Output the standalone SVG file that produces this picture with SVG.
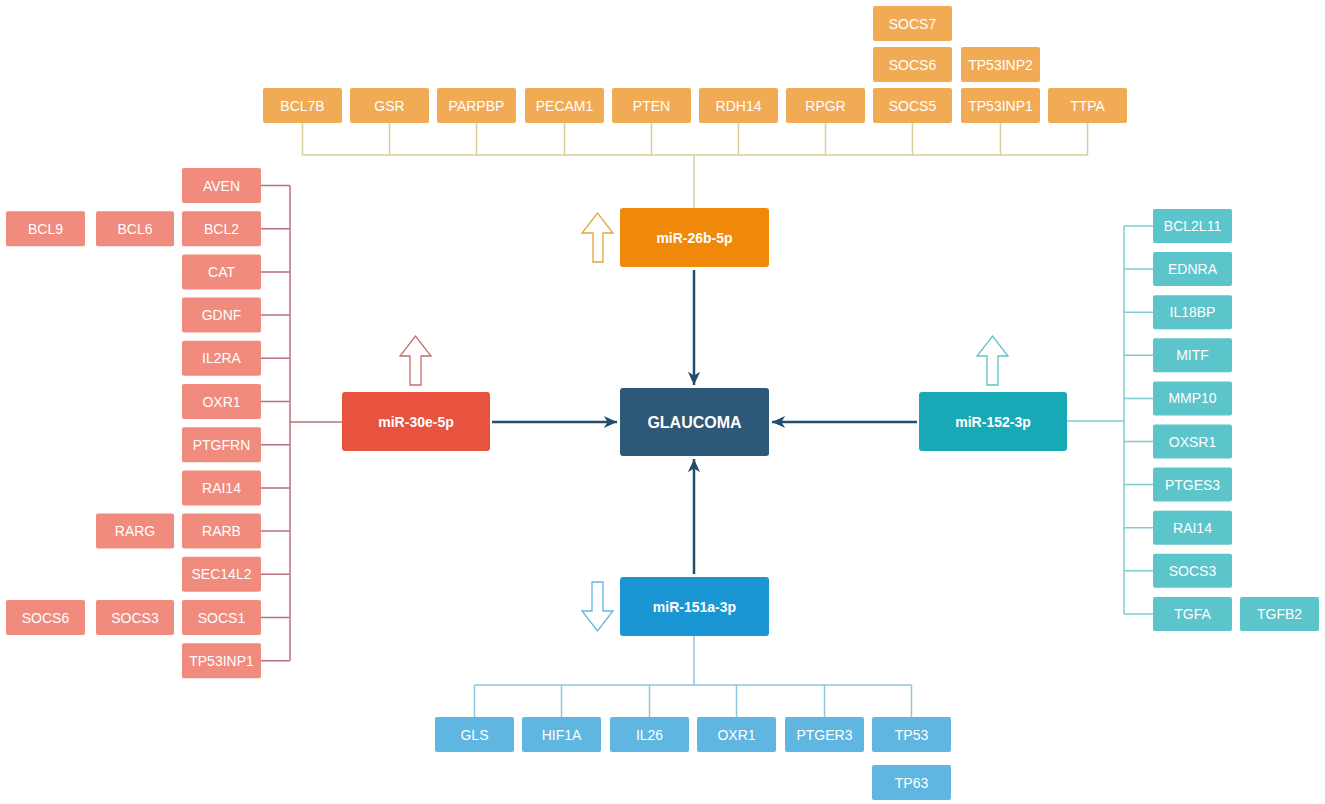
<svg xmlns="http://www.w3.org/2000/svg" width="1325" height="804" viewBox="0 0 1325 804">
<style>
text{font-family:"Liberation Sans",Arial,sans-serif;fill:#fff;text-anchor:middle;dominant-baseline:central}
.g{font-size:14px}
.m{font-size:14px;font-weight:bold}
.big{font-size:16px;font-weight:bold}
.or rect{fill:#f2ab55}
.sa rect{fill:#f08b7d}
.te rect{fill:#5cc4cb}
.bl rect{fill:#5fb6e0}
.ct{stroke:#d8cf98;stroke-width:1.5;fill:none}
.cl{stroke:#b8727a;stroke-width:1.5;fill:none}
.cr{stroke:#7fcdd3;stroke-width:1.5;fill:none}
.cb{stroke:#8fc7e0;stroke-width:1.5;fill:none}
.main{stroke:#214d6e;stroke-width:2.5;fill:none;marker-end:url(#ah)}
</style>
<defs>
<marker id="ah" markerUnits="userSpaceOnUse" markerWidth="16" markerHeight="16" viewBox="-1 -8 17 16" refX="14" refY="0" orient="auto">
<path d="M0,-6.5 L14,0 L0,6.5 L4,0 z" fill="#214d6e"/>
</marker>
</defs>
<rect width="1325" height="804" fill="#fff"/>

<g id="connectors">
<path class="ct" d="M302.5,123V155M389.5,123V155M476.5,123V155M564.5,123V155M651.5,123V155M738.5,123V155M825.5,123V155M912.5,123V155M1000.5,123V155M1087.5,123V155M302.5,155H1087.5M694,155V208"/>
<path class="cl" d="M342,422H290M290,185.5V660.5M261,185.5H290M261,228.7H290M261,271.9H290M261,315.1H290M261,358.3H290M261,401.5H290M261,444.7H290M261,487.9H290M261,531.1H290M261,574.3H290M261,617.5H290M261,660.7H290"/>
<path class="cr" d="M1067,421H1124M1124,226V614M1124,226H1153M1124,269.1H1153M1124,312.2H1153M1124,355.3H1153M1124,398.4H1153M1124,441.5H1153M1124,484.6H1153M1124,527.7H1153M1124,570.8H1153M1124,613.9H1153"/>
<path class="cb" d="M694,636V685M474.5,685H911.5M474.5,685V717M561.5,685V717M649.5,685V717M736.5,685V717M824.5,685V717M911.5,685V717"/>
<path class="main" d="M694,270V385"/>
<path class="main" d="M492,422H617"/>
<path class="main" d="M917,422H772"/>
<path class="main" d="M694,574V459"/>
<polygon points="593,262 603,262 603,233 613,233 597.5,213 582,233 593,233" fill="#fff" stroke="#e8a33b" stroke-width="1.3"/>
<polygon points="410,385 421,385 421,356 431,356 415.5,336 400,356 410,356" fill="#fff" stroke="#c0706a" stroke-width="1.3"/>
<polygon points="987,385 998,385 998,356 1008,356 992.5,336 977,356 987,356" fill="#fff" stroke="#5cc4cb" stroke-width="1.3"/>
<polygon points="592,582 603,582 603,611 613,611 597.5,631 582,611 592,611" fill="#fff" stroke="#5fb6e0" stroke-width="1.3"/>
</g>

<g id="glaucoma"><rect x="620" y="388" width="149" height="68" rx="3" fill="#2e5878"/><text class="big" x="694.5" y="422">GLAUCOMA</text></g>
<g id="mir26b"><rect x="620" y="208" width="149" height="59" rx="3" fill="#f0890a"/><text class="m" x="694.5" y="237.5">miR-26b-5p</text></g>
<g id="mir30e"><rect x="342" y="392" width="148" height="59" rx="3" fill="#e8533f"/><text class="m" x="416" y="421.5">miR-30e-5p</text></g>
<g id="mir152"><rect x="919" y="392" width="148" height="59" rx="3" fill="#17a9b5"/><text class="m" x="993" y="421.5">miR-152-3p</text></g>
<g id="mir151a"><rect x="620" y="577" width="149" height="59" rx="3" fill="#1a96d4"/><text class="m" x="694.5" y="606.5">miR-151a-3p</text></g>

<g class="or">
<g id="t-bcl7b"><rect x="263" y="88" width="79" height="35" rx="2"/><text class="g" x="302.5" y="105.5">BCL7B</text></g>
<g id="t-gsr"><rect x="350" y="88" width="79" height="35" rx="2"/><text class="g" x="389.5" y="105.5">GSR</text></g>
<g id="t-parpbp"><rect x="437" y="88" width="79" height="35" rx="2"/><text class="g" x="476.5" y="105.5">PARPBP</text></g>
<g id="t-pecam1"><rect x="525" y="88" width="79" height="35" rx="2"/><text class="g" x="564.5" y="105.5">PECAM1</text></g>
<g id="t-pten"><rect x="612" y="88" width="79" height="35" rx="2"/><text class="g" x="651.5" y="105.5">PTEN</text></g>
<g id="t-rdh14"><rect x="699" y="88" width="79" height="35" rx="2"/><text class="g" x="738.5" y="105.5">RDH14</text></g>
<g id="t-rpgr"><rect x="786" y="88" width="79" height="35" rx="2"/><text class="g" x="825.5" y="105.5">RPGR</text></g>
<g id="t-socs5"><rect x="873" y="88" width="79" height="35" rx="2"/><text class="g" x="912.5" y="105.5">SOCS5</text></g>
<g id="t-socs6"><rect x="873" y="47" width="79" height="35" rx="2"/><text class="g" x="912.5" y="64.5">SOCS6</text></g>
<g id="t-socs7"><rect x="873" y="6" width="79" height="35" rx="2"/><text class="g" x="912.5" y="23.5">SOCS7</text></g>
<g id="t-tp53inp1"><rect x="961" y="88" width="79" height="35" rx="2"/><text class="g" x="1000.5" y="105.5">TP53INP1</text></g>
<g id="t-tp53inp2"><rect x="961" y="47" width="79" height="35" rx="2"/><text class="g" x="1000.5" y="64.5">TP53INP2</text></g>
<g id="t-ttpa"><rect x="1048" y="88" width="79" height="35" rx="2"/><text class="g" x="1087.5" y="105.5">TTPA</text></g>
</g>

<g class="sa">
<g id="l-aven"><rect x="182" y="168" width="79" height="35" rx="2"/><text class="g" x="221.5" y="185.5">AVEN</text></g>
<g id="l-bcl2"><rect x="182" y="211.2" width="79" height="35" rx="2"/><text class="g" x="221.5" y="228.7">BCL2</text></g>
<g id="l-bcl6"><rect x="96" y="211.2" width="78" height="35" rx="2"/><text class="g" x="135" y="228.7">BCL6</text></g>
<g id="l-bcl9"><rect x="6" y="211.2" width="79" height="35" rx="2"/><text class="g" x="45.5" y="228.7">BCL9</text></g>
<g id="l-cat"><rect x="182" y="254.4" width="79" height="35" rx="2"/><text class="g" x="221.5" y="271.9">CAT</text></g>
<g id="l-gdnf"><rect x="182" y="297.6" width="79" height="35" rx="2"/><text class="g" x="221.5" y="315.1">GDNF</text></g>
<g id="l-il2ra"><rect x="182" y="340.8" width="79" height="35" rx="2"/><text class="g" x="221.5" y="358.3">IL2RA</text></g>
<g id="l-oxr1"><rect x="182" y="384" width="79" height="35" rx="2"/><text class="g" x="221.5" y="401.5">OXR1</text></g>
<g id="l-ptgfrn"><rect x="182" y="427.2" width="79" height="35" rx="2"/><text class="g" x="221.5" y="444.7">PTGFRN</text></g>
<g id="l-rai14"><rect x="182" y="470.4" width="79" height="35" rx="2"/><text class="g" x="221.5" y="487.9">RAI14</text></g>
<g id="l-rarb"><rect x="182" y="513.6" width="79" height="35" rx="2"/><text class="g" x="221.5" y="531.1">RARB</text></g>
<g id="l-rarg"><rect x="96" y="513.6" width="78" height="35" rx="2"/><text class="g" x="135" y="531.1">RARG</text></g>
<g id="l-sec14l2"><rect x="182" y="556.8" width="79" height="35" rx="2"/><text class="g" x="221.5" y="574.3">SEC14L2</text></g>
<g id="l-socs1"><rect x="182" y="600" width="79" height="35" rx="2"/><text class="g" x="221.5" y="617.5">SOCS1</text></g>
<g id="l-socs3"><rect x="96" y="600" width="78" height="35" rx="2"/><text class="g" x="135" y="617.5">SOCS3</text></g>
<g id="l-socs6"><rect x="6" y="600" width="79" height="35" rx="2"/><text class="g" x="45.5" y="617.5">SOCS6</text></g>
<g id="l-tp53inp1"><rect x="182" y="643.2" width="79" height="35" rx="2"/><text class="g" x="221.5" y="660.7">TP53INP1</text></g>
</g>

<g class="te">
<g id="r-bcl2l11"><rect x="1153" y="209" width="79" height="34" rx="2"/><text class="g" x="1192.5" y="226">BCL2L11</text></g>
<g id="r-ednra"><rect x="1153" y="252.1" width="79" height="34" rx="2"/><text class="g" x="1192.5" y="269.1">EDNRA</text></g>
<g id="r-il18bp"><rect x="1153" y="295.2" width="79" height="34" rx="2"/><text class="g" x="1192.5" y="312.2">IL18BP</text></g>
<g id="r-mitf"><rect x="1153" y="338.3" width="79" height="34" rx="2"/><text class="g" x="1192.5" y="355.3">MITF</text></g>
<g id="r-mmp10"><rect x="1153" y="381.4" width="79" height="34" rx="2"/><text class="g" x="1192.5" y="398.4">MMP10</text></g>
<g id="r-oxsr1"><rect x="1153" y="424.5" width="79" height="34" rx="2"/><text class="g" x="1192.5" y="441.5">OXSR1</text></g>
<g id="r-ptges3"><rect x="1153" y="467.6" width="79" height="34" rx="2"/><text class="g" x="1192.5" y="484.6">PTGES3</text></g>
<g id="r-rai14"><rect x="1153" y="510.7" width="79" height="34" rx="2"/><text class="g" x="1192.5" y="527.7">RAI14</text></g>
<g id="r-socs3"><rect x="1153" y="553.8" width="79" height="34" rx="2"/><text class="g" x="1192.5" y="570.8">SOCS3</text></g>
<g id="r-tgfa"><rect x="1153" y="596.9" width="79" height="34" rx="2"/><text class="g" x="1192.5" y="613.9">TGFA</text></g>
<g id="r-tgfb2"><rect x="1240" y="596.9" width="79" height="34" rx="2"/><text class="g" x="1279.5" y="613.9">TGFB2</text></g>
</g>

<g class="bl">
<g id="b-gls"><rect x="435" y="717" width="79" height="35" rx="2"/><text class="g" x="474.5" y="734.5">GLS</text></g>
<g id="b-hif1a"><rect x="522" y="717" width="79" height="35" rx="2"/><text class="g" x="561.5" y="734.5">HIF1A</text></g>
<g id="b-il26"><rect x="610" y="717" width="79" height="35" rx="2"/><text class="g" x="649.5" y="734.5">IL26</text></g>
<g id="b-oxr1"><rect x="697" y="717" width="79" height="35" rx="2"/><text class="g" x="736.5" y="734.5">OXR1</text></g>
<g id="b-ptger3"><rect x="785" y="717" width="79" height="35" rx="2"/><text class="g" x="824.5" y="734.5">PTGER3</text></g>
<g id="b-tp53"><rect x="872" y="717" width="79" height="35" rx="2"/><text class="g" x="911.5" y="734.5">TP53</text></g>
<g id="b-tp63"><rect x="872" y="765" width="79" height="35" rx="2"/><text class="g" x="911.5" y="782.5">TP63</text></g>
</g>
</svg>
